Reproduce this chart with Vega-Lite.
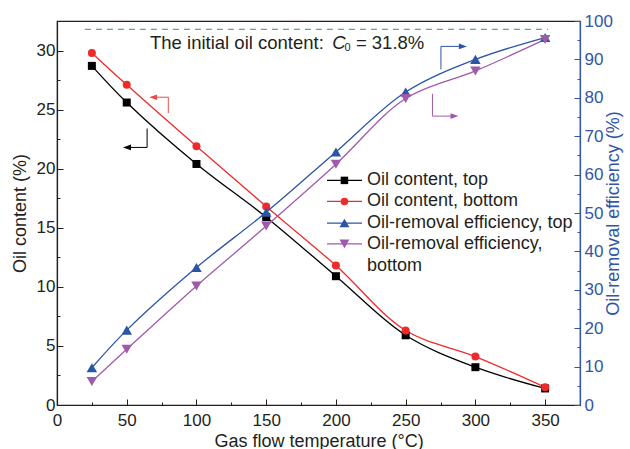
{
  "$schema": "https://vega.github.io/schema/vega-lite/v6.json",
  "width": 523,
  "height": 384,
  "autosize": "none",
  "padding": {"left": 57, "top": 21, "right": 50, "bottom": 44},
  "background": "white",
  "config": {
    "font": "Liberation Sans",
    "view": {"stroke": "#231f20", "strokeWidth": 1.2},
    "axis": {
      "grid": false,
      "labelFontSize": 17,
      "titleFontSize": 18,
      "titleFontWeight": "normal",
      "labelColor": "#231f20",
      "titleColor": "#231f20",
      "domainColor": "#231f20",
      "tickColor": "#231f20",
      "domainWidth": 1.2,
      "tickWidth": 1,
      "labelFlush": false,
      "labelOverlap": false
    }
  },
  "datasets": {
    "oil": [
      {"t": 25, "series": "Oil content, top", "v": 28.7},
      {"t": 50, "series": "Oil content, top", "v": 25.6},
      {"t": 100, "series": "Oil content, top", "v": 20.4},
      {"t": 150, "series": "Oil content, top", "v": 15.9},
      {"t": 200, "series": "Oil content, top", "v": 10.9},
      {"t": 250, "series": "Oil content, top", "v": 5.9},
      {"t": 300, "series": "Oil content, top", "v": 3.2},
      {"t": 350, "series": "Oil content, top", "v": 1.4},
      {"t": 25, "series": "Oil content, bottom", "v": 29.8},
      {"t": 50, "series": "Oil content, bottom", "v": 27.1},
      {"t": 100, "series": "Oil content, bottom", "v": 21.9},
      {"t": 150, "series": "Oil content, bottom", "v": 16.8},
      {"t": 200, "series": "Oil content, bottom", "v": 11.8},
      {"t": 250, "series": "Oil content, bottom", "v": 6.3},
      {"t": 300, "series": "Oil content, bottom", "v": 4.1},
      {"t": 350, "series": "Oil content, bottom", "v": 1.5}
    ],
    "eff": [
      {"t": 25, "series": "Oil-removal efficiency, top", "v": 9.7},
      {"t": 50, "series": "Oil-removal efficiency, top", "v": 19.5},
      {"t": 100, "series": "Oil-removal efficiency, top", "v": 35.8},
      {"t": 150, "series": "Oil-removal efficiency, top", "v": 50.2},
      {"t": 200, "series": "Oil-removal efficiency, top", "v": 65.9},
      {"t": 250, "series": "Oil-removal efficiency, top", "v": 81.5},
      {"t": 300, "series": "Oil-removal efficiency, top", "v": 90.0},
      {"t": 350, "series": "Oil-removal efficiency, top", "v": 95.7},
      {"t": 25, "series": "Oil-removal efficiency, bottom", "v": 6.1},
      {"t": 50, "series": "Oil-removal efficiency, bottom", "v": 14.5},
      {"t": 100, "series": "Oil-removal efficiency, bottom", "v": 31.0},
      {"t": 150, "series": "Oil-removal efficiency, bottom", "v": 46.6},
      {"t": 200, "series": "Oil-removal efficiency, bottom", "v": 62.7},
      {"t": 250, "series": "Oil-removal efficiency, bottom", "v": 79.8},
      {"t": 300, "series": "Oil-removal efficiency, bottom", "v": 87.0},
      {"t": 350, "series": "Oil-removal efficiency, bottom", "v": 95.2}
    ],
    "ref": [{"t": 20, "t2": 352, "v": 31.8}],
    "arrowSeg": [
      {"arrow": "oil top", "t": 64.6, "t2": 64.6, "v": 23.4, "v2": 21.8},
      {"arrow": "oil top", "t": 64.6, "t2": 51, "v": 21.8, "v2": 21.8},
      {"arrow": "oil bottom", "t": 79.8, "t2": 79.8, "v": 24.7, "v2": 26.05},
      {"arrow": "oil bottom", "t": 79.8, "t2": 70, "v": 26.05, "v2": 26.05},
      {"arrow": "eff top", "t": 275.3, "t2": 275.3, "v": 28.4, "v2": 30.35},
      {"arrow": "eff top", "t": 275.3, "t2": 290, "v": 30.35, "v2": 30.35},
      {"arrow": "eff bottom", "t": 269.2, "t2": 269.2, "v": 26.35, "v2": 24.45},
      {"arrow": "eff bottom", "t": 269.2, "t2": 284, "v": 24.45, "v2": 24.45}
    ],
    "headLeft": [
      {"arrow": "oil top", "t": 50.2, "v": 21.8},
      {"arrow": "oil bottom", "t": 68.9, "v": 26.05}
    ],
    "headRight": [
      {"arrow": "eff top", "t": 291.0, "v": 30.35},
      {"arrow": "eff bottom", "t": 285.0, "v": 24.45}
    ],
    "note": [
      {"t": 66.7, "v": 30.13, "label": "The initial oil content:"},
      {"t": 214.3, "v": 30.13, "label": "= 31.8%"}
    ],
    "noteC": [{"t": 197.3, "v": 30.13, "label": "C"}],
    "noteSub": [{"t": 206.2, "v": 29.98, "label": "0"}],
    "legendLine": [
      {"series": "Oil content, top", "t": 193.6, "t2": 218.7, "v": 19.01},
      {"series": "Oil content, bottom", "t": 193.6, "t2": 218.7, "v": 17.23},
      {"series": "Oil-removal efficiency, top", "t": 193.6, "t2": 218.7, "v": 15.40},
      {"series": "Oil-removal efficiency, bottom", "t": 193.6, "t2": 218.7, "v": 13.64}
    ],
    "legendOilSym": [
      {"series": "Oil content, top", "t": 206.1, "v": 19.01},
      {"series": "Oil content, bottom", "t": 206.1, "v": 17.23}
    ],
    "legendEffSym": [
      {"series": "Oil-removal efficiency, top", "t": 206.1, "v": 15.40},
      {"series": "Oil-removal efficiency, bottom", "t": 206.1, "v": 13.64}
    ],
    "legendText": [
      {"t": 222.3, "v": 19.01, "label": "Oil content, top"},
      {"t": 222.3, "v": 17.23, "label": "Oil content, bottom"},
      {"t": 222.3, "v": 15.40, "label": "Oil-removal efficiency, top"},
      {"t": 222.3, "v": 13.64, "label": "Oil-removal efficiency,"},
      {"t": 222.3, "v": 11.78, "label": "bottom"}
    ]
  },
  "encoding": {
    "x": {
      "field": "t",
      "type": "quantitative",
      "scale": {"domain": [0, 375], "nice": false, "zero": false},
      "axis": {
        "title": "Gas flow temperature (°C)",
        "values": [0, 25, 50, 75, 100, 125, 150, 175, 200, 225, 250, 275, 300, 325, 350],
        "labelExpr": "datum.value % 50 === 0 ? datum.label : ''",
        "tickSize": {"condition": {"test": "datum.value % 50 === 0", "value": -6}, "value": -3},
        "labelPadding": 13,
        "titlePadding": 1
      }
    }
  },
  "layer": [
    {
      "encoding": {
        "y": {
          "field": "v",
          "type": "quantitative",
          "scale": {"domain": [0, 32.5], "nice": false, "zero": false},
          "axis": {
            "title": "Oil content (%)",
            "values": [0, 2.5, 5, 7.5, 10, 12.5, 15, 17.5, 20, 22.5, 25, 27.5, 30, 32.5],
            "labelExpr": "datum.value % 5 === 0 ? datum.label : ''",
            "tickSize": {"condition": {"test": "datum.value % 5 === 0", "value": -6}, "value": -3},
            "labelPadding": 8,
            "titlePadding": 7
          }
        }
      },
      "layer": [
        {
          "data": {"name": "ref"},
          "mark": {"type": "rule", "color": "#3a9550", "strokeDash": [6, 5], "strokeWidth": 1},
          "encoding": {"x2": {"field": "t2"}}
        },
        {
          "data": {"name": "arrowSeg"},
          "mark": {"type": "rule", "strokeWidth": 1},
          "encoding": {
            "x2": {"field": "t2"},
            "y2": {"field": "v2"},
            "stroke": {
              "field": "arrow",
              "type": "nominal",
              "scale": {
                "domain": ["oil top", "oil bottom", "eff top", "eff bottom"],
                "range": ["#000000", "#f0484a", "#2b55a5", "#a05aab"]
              },
              "legend": null
            }
          }
        },
        {
          "data": {"name": "headLeft"},
          "mark": {"type": "point", "filled": true, "opacity": 1, "size": 64, "shape": "M-1,0L1,-0.7L1,0.7Z", "strokeWidth": 0},
          "encoding": {
            "fill": {
              "field": "arrow",
              "type": "nominal",
              "scale": {
                "domain": ["oil top", "oil bottom", "eff top", "eff bottom"],
                "range": ["#000000", "#f0484a", "#2b55a5", "#a05aab"]
              },
              "legend": null
            }
          }
        },
        {
          "data": {"name": "headRight"},
          "mark": {"type": "point", "filled": true, "opacity": 1, "size": 64, "shape": "M1,0L-1,-0.7L-1,0.7Z", "strokeWidth": 0},
          "encoding": {
            "fill": {"field": "arrow", "type": "nominal", "legend": null}
          }
        },
        {
          "data": {"name": "note"},
          "mark": {"type": "text", "align": "left", "baseline": "alphabetic", "fontSize": 18.5, "color": "#231f20"},
          "encoding": {"text": {"field": "label"}}
        },
        {
          "data": {"name": "noteC"},
          "mark": {"type": "text", "align": "left", "baseline": "alphabetic", "fontSize": 18.5, "fontStyle": "italic", "color": "#231f20"},
          "encoding": {"text": {"field": "label"}}
        },
        {
          "data": {"name": "noteSub"},
          "mark": {"type": "text", "align": "left", "baseline": "alphabetic", "fontSize": 11, "color": "#231f20"},
          "encoding": {"text": {"field": "label"}}
        },
        {
          "data": {"name": "oil"},
          "mark": {"type": "line", "interpolate": "catmull-rom", "strokeWidth": 1.3},
          "encoding": {
            "color": {
              "field": "series",
              "type": "nominal",
              "scale": {
                "domain": ["Oil content, top", "Oil content, bottom", "Oil-removal efficiency, top", "Oil-removal efficiency, bottom"],
                "range": ["#000000", "#ee2b2b", "#2b55a5", "#a05aab"]
              },
              "legend": null
            }
          }
        },
        {
          "data": {"name": "oil"},
          "mark": {"type": "point", "filled": true, "opacity": 1, "size": 64},
          "encoding": {
            "color": {"field": "series", "type": "nominal", "legend": null},
            "shape": {
              "field": "series",
              "type": "nominal",
              "scale": {
                "domain": ["Oil content, top", "Oil content, bottom", "Oil-removal efficiency, top", "Oil-removal efficiency, bottom"],
                "range": ["square", "circle", "triangle-up", "triangle-down"]
              },
              "legend": null
            }
          }
        },
        {
          "data": {"name": "legendLine"},
          "mark": {"type": "rule", "strokeWidth": 1.3},
          "encoding": {
            "x2": {"field": "t2"},
            "color": {"field": "series", "type": "nominal", "legend": null}
          }
        },
        {
          "data": {"name": "legendOilSym"},
          "mark": {"type": "point", "filled": true, "opacity": 1, "size": 56},
          "encoding": {
            "color": {"field": "series", "type": "nominal", "legend": null},
            "shape": {"field": "series", "type": "nominal", "legend": null}
          }
        },
        {
          "data": {"name": "legendEffSym"},
          "mark": {"type": "point", "filled": true, "opacity": 1, "size": 100},
          "encoding": {
            "color": {"field": "series", "type": "nominal", "legend": null},
            "shape": {"field": "series", "type": "nominal", "legend": null}
          }
        },
        {
          "data": {"name": "legendText"},
          "mark": {"type": "text", "align": "left", "baseline": "middle", "fontSize": 18, "color": "#231f20"},
          "encoding": {"text": {"field": "label"}}
        }
      ]
    },
    {
      "data": {"name": "eff"},
      "encoding": {
        "y": {
          "field": "v",
          "type": "quantitative",
          "scale": {"domain": [0, 100], "nice": false, "zero": false},
          "axis": {
            "orient": "right",
            "title": "Oil-removal efficiency (%)",
            "titleAngle": 270,
            "values": [0, 5, 10, 15, 20, 25, 30, 35, 40, 45, 50, 55, 60, 65, 70, 75, 80, 85, 90, 95, 100],
            "labelExpr": "datum.value % 10 === 0 ? datum.label : ''",
            "tickSize": {"condition": {"test": "datum.value % 10 === 0", "value": -6}, "value": -3},
            "labelPadding": 10,
            "titlePadding": 10,
            "domainColor": "#3355a6",
            "tickColor": "#3355a6",
            "labelColor": "#3355a6",
            "titleColor": "#3355a6"
          }
        }
      },
      "layer": [
        {
          "mark": {"type": "line", "interpolate": "catmull-rom", "strokeWidth": 1.3},
          "encoding": {"color": {"field": "series", "type": "nominal", "legend": null}}
        },
        {
          "mark": {"type": "point", "filled": true, "opacity": 1, "size": 110},
          "encoding": {
            "color": {"field": "series", "type": "nominal", "legend": null},
            "shape": {"field": "series", "type": "nominal", "legend": null}
          }
        }
      ]
    }
  ],
  "resolve": {"scale": {"y": "independent"}}
}
